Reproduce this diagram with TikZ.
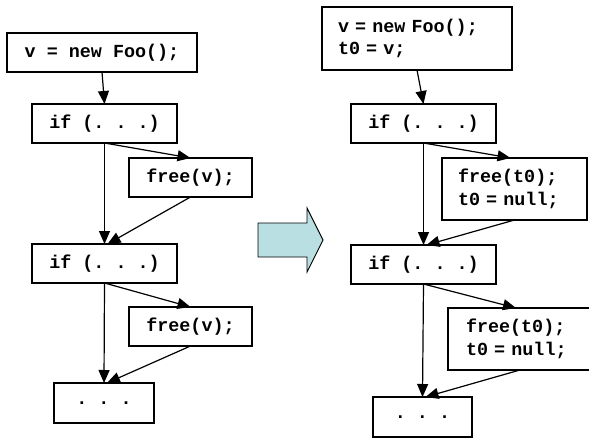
\documentclass[tikz,border=0pt]{standalone}
\usepackage{fontspec}
\setmonofont{Liberation Mono}
\usetikzlibrary{arrows.meta}
\definecolor{arrowfill}{RGB}{185,223,226}
\tikzset{
  box/.style={draw, line width=1.5pt, font=\ttfamily\bfseries\fontsize{18.4}{22.5}\selectfont,
    anchor=north west, inner sep=0pt, outer sep=0pt},
  mlbox/.style={box, align=left, inner xsep=16pt},
  conn/.style={line width=1.2pt, -{Triangle[length=13pt,width=11pt]}},
}
\begin{document}
\begin{tikzpicture}[x=1pt,y=-1pt]
\useasboundingbox (0,0) rectangle (589,439);
\clip (0,0) rectangle (589,439);
% left flow
\node[box, minimum width=190pt, minimum height=39pt] (l1) at (7,33) {v = new Foo();};
\node[box, minimum width=145pt, minimum height=39pt] (lif1) at (32,104) {if (. . .)};
\node[box, minimum width=123pt, minimum height=39pt] (lf1) at (129,158) {free(v);};
\node[box, minimum width=145pt, minimum height=39pt] (lif2) at (32,244) {if (. . .)};
\node[box, minimum width=123pt, minimum height=39pt] (lf2) at (129,307) {free(v);};
\node[box, minimum width=100pt, minimum height=40pt] (ld) at (54,383) {. . .};
\draw[conn] (l1.south) -- (lif1.north);
\draw[conn] (lif1.south) -- (lf1.north);
\draw[conn] (lif1.south) -- (lif2.north);
\draw[conn] (lf1.south) -- ([xshift=3pt]lif2.north);
\draw[conn] (lif2.south) -- (lf2.north);
\draw[conn] (lif2.south) -- (ld.north);
\draw[conn] (lf2.south) -- ([xshift=3pt]ld.north);
% block arrow
\draw[line width=0.9pt, fill=arrowfill, line join=miter]
  (258,223) -- (307,223) -- (307,208) -- (323,240) -- (307,272) -- (307,257) -- (258,257) -- cycle;
% right flow
\node[mlbox, text width=158pt, minimum height=63pt] (r1) at (322,7) {v = new Foo();\\t0 = v;};
\node[box, minimum width=145pt, minimum height=39pt] (rif1) at (351,104) {if (. . .)};
\node[mlbox, text width=113pt, minimum height=62pt] (rf1) at (442,158) {free(t0);\\t0 = null;};
\node[box, minimum width=145pt, minimum height=39pt] (rif2) at (351,245) {if (. . .)};
\node[mlbox, inner xsep=18pt, text width=116pt, minimum height=62pt] (rf2) at (448,308) {free(t0);\\t0 = null;};
\node[box, minimum width=99pt, minimum height=40pt] (rd) at (373,397) {. . .};
\draw[conn] (r1.south) -- (rif1.north);
\draw[conn] (rif1.south) -- ([xshift=-4pt]rf1.north);
\draw[conn] (rif1.south) -- (rif2.north);
\draw[conn] (rf1.south) -- ([xshift=3pt]rif2.north);
\draw[conn] (rif2.south) -- ([xshift=-8pt]rf2.north);
\draw[conn] (rif2.south) -- (rd.north);
\draw[conn] ([xshift=-4pt]rf2.south) -- ([xshift=3pt]rd.north);
\end{tikzpicture}
\end{document}
